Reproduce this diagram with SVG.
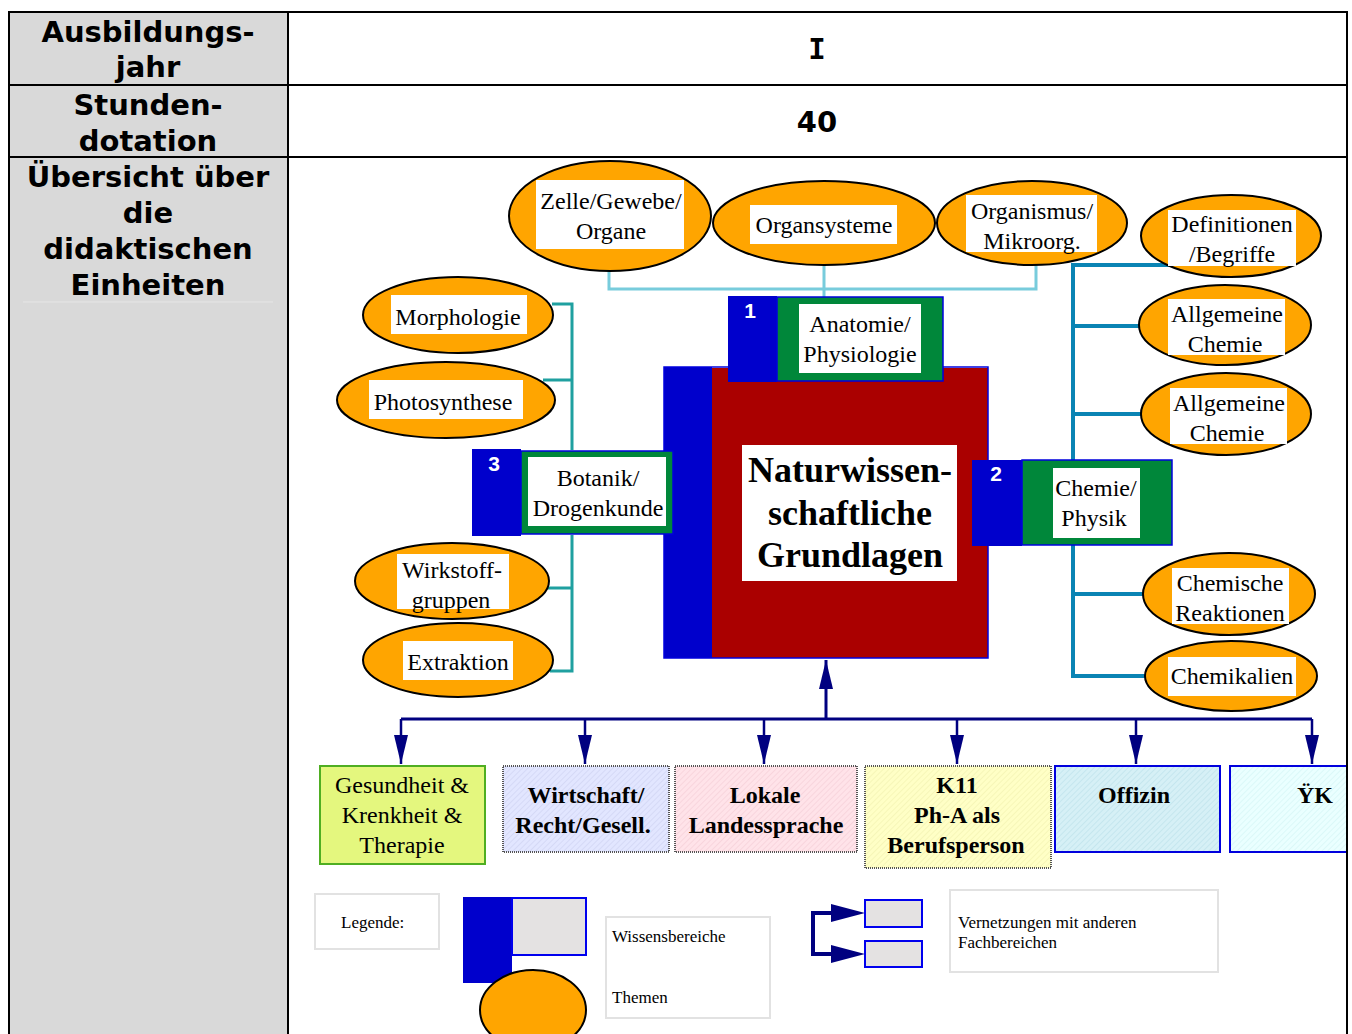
<svg xmlns="http://www.w3.org/2000/svg" width="1352" height="1034" viewBox="0 0 1352 1034">
<defs>
<style>
.hdr{font-family:"DejaVu Sans","Verdana",sans-serif;font-weight:bold;font-size:29px;fill:#000;text-anchor:middle}
.t{font-family:"Liberation Serif","Times New Roman",serif;font-size:24px;fill:#000;text-anchor:middle}
.tb{font-family:"Liberation Serif","Times New Roman",serif;font-size:24px;font-weight:bold;fill:#000;text-anchor:middle}
.main{font-family:"Liberation Serif","Times New Roman",serif;font-size:36px;font-weight:bold;fill:#000;text-anchor:middle}
.num{font-family:"Liberation Sans",Arial,sans-serif;font-size:21px;font-weight:bold;fill:#fff;text-anchor:middle}
.lg{font-family:"Liberation Serif","Times New Roman",serif;font-size:17px;fill:#000}
.ell{fill:#FFA500;stroke:#000;stroke-width:2}
.lbl{fill:#fff}
.blue{fill:#0000CC}
.green{fill:#00873A}
.grid{stroke:#000;stroke-width:2;fill:none}
.lgbox{fill:#fff;stroke:#E2E2E2;stroke-width:2}
.navy{stroke:#000080;fill:none}
</style>
<pattern id="hatchA" width="4" height="4" patternUnits="userSpaceOnUse" patternTransform="rotate(45)">
<rect width="4" height="4" fill="#E2E6FF"/><line x1="0" y1="0" x2="0" y2="4" stroke="#C8CCEE" stroke-width="1"/>
</pattern>
<pattern id="hatchB" width="4" height="4" patternUnits="userSpaceOnUse" patternTransform="rotate(45)">
<rect width="4" height="4" fill="#FFE3E9"/><line x1="0" y1="0" x2="0" y2="4" stroke="#F2C8D2" stroke-width="1"/>
</pattern>
<pattern id="hatchC" width="4" height="4" patternUnits="userSpaceOnUse" patternTransform="rotate(45)">
<rect width="4" height="4" fill="#FFFFC6"/><line x1="0" y1="0" x2="0" y2="4" stroke="#EEEEAA" stroke-width="1"/>
</pattern>
<pattern id="hatchD" width="4" height="4" patternUnits="userSpaceOnUse" patternTransform="rotate(45)">
<rect width="4" height="4" fill="#D6F0F6"/><line x1="0" y1="0" x2="0" y2="4" stroke="#B4DCE6" stroke-width="1"/>
</pattern>
<pattern id="hatchE" width="4" height="4" patternUnits="userSpaceOnUse" patternTransform="rotate(45)">
<rect width="4" height="4" fill="#EAFFFF"/><line x1="0" y1="0" x2="0" y2="4" stroke="#CCF2F2" stroke-width="1"/>
</pattern>
<marker id="ah" markerUnits="userSpaceOnUse" markerWidth="30" markerHeight="16" refX="29" refY="7" orient="auto" viewBox="0 0 30 14">
<path d="M0,0 L29,7 L0,14 Z" fill="#000080"/>
</marker>
</defs>

<rect width="1352" height="1034" fill="#fff"/>

<g id="table">
<rect x="9" y="12" width="279" height="1030" fill="#D9D9D9"/>
<line x1="23" y1="302" x2="273" y2="302" stroke="#E6E6E6" stroke-width="1"/>
<path class="grid" d="M9,1040 V12 H1347 V1040 M288,12 V1040 M9,85 H1347 M9,157 H1347"/>
<text class="hdr" x="148" y="42">Ausbildungs-</text>
<text class="hdr" x="148" y="77">jahr</text>
<text class="hdr" x="148" y="115">Stunden-</text>
<text class="hdr" x="148" y="151">dotation</text>
<text class="hdr" x="148" y="187">Übersicht über</text>
<text class="hdr" x="148" y="223">die</text>
<text class="hdr" x="148" y="259">didaktischen</text>
<text class="hdr" x="148" y="295">Einheiten</text>
<text class="hdr" x="817" y="59" style="font-family:'DejaVu Sans Mono',monospace">I</text>
<text class="hdr" x="817" y="132">40</text>
</g>

<g id="connectors">
<path d="M609,271 V289 H1036 V265 M824,266 V297" stroke="#78CCDC" stroke-width="3" fill="none"/>
<path d="M552,304 H572 V450 M543,380 H572 M572,535 V671 H550 M548,588 H572" stroke="#1FA0A0" stroke-width="3" fill="none"/>
<path d="M1172,265 H1073 V461 M1073,326 H1141 M1073,414 H1143 M1073,545 V676 H1147 M1073,594 H1145" stroke="#0A84B4" stroke-width="4" fill="none"/>
<path class="navy" stroke-width="3" d="M401,719 H1312"/>
<path class="navy" stroke-width="3" d="M826,719 V660" marker-end="url(#ah)"/>
<path class="navy" stroke-width="2.5" d="M401,719 V764" marker-end="url(#ah)"/>
<path class="navy" stroke-width="2.5" d="M585,719 V764" marker-end="url(#ah)"/>
<path class="navy" stroke-width="2.5" d="M764,719 V764" marker-end="url(#ah)"/>
<path class="navy" stroke-width="2.5" d="M957,719 V764" marker-end="url(#ah)"/>
<path class="navy" stroke-width="2.5" d="M1136,719 V764" marker-end="url(#ah)"/>
<path class="navy" stroke-width="2.5" d="M1312,719 V764" marker-end="url(#ah)"/>
</g>

<g id="n-main">
<rect x="664" y="367" width="48" height="291" class="blue"/>
<rect x="712" y="368" width="276" height="290" fill="#AA0000"/>
<rect x="664" y="367" width="324" height="291" fill="none" stroke="#0000DD" stroke-width="1.5"/>
<rect x="742" y="445" width="215" height="136" class="lbl"/>
<text class="main" x="850" y="482">Naturwissen-</text>
<text class="main" x="850" y="525">schaftliche</text>
<text class="main" x="850" y="567">Grundlagen</text>
</g>

<g id="n-anatomie">
<rect x="728" y="296" width="49" height="86" class="blue"/>
<rect x="777" y="297" width="166" height="84" class="green" stroke="#0000DD" stroke-width="1.5"/>
<rect x="799" y="304" width="122" height="69" class="lbl"/>
<text class="num" x="750" y="318">1</text>
<text class="t" x="860" y="332">Anatomie/</text>
<text class="t" x="860" y="362">Physiologie</text>
</g>

<g id="n-botanik">
<rect x="472" y="449" width="49" height="87" class="blue"/>
<rect x="521" y="451" width="152" height="83" class="green" stroke="#0000DD" stroke-width="1.5"/>
<rect x="528" y="457" width="138" height="69" class="lbl"/>
<text class="num" x="494" y="471">3</text>
<text class="t" x="598" y="486">Botanik/</text>
<text class="t" x="598" y="516">Drogenkunde</text>
</g>

<g id="n-chemie">
<rect x="972" y="460" width="50" height="86" class="blue"/>
<rect x="1022" y="460" width="150" height="85" class="green" stroke="#0000DD" stroke-width="1.5"/>
<rect x="1053" y="468" width="87" height="70" class="lbl"/>
<text class="num" x="996" y="481">2</text>
<text class="t" x="1096" y="496">Chemie/</text>
<text class="t" x="1094" y="526">Physik</text>
</g>

<g id="n-zelle">
<ellipse class="ell" cx="610" cy="216" rx="101" ry="55"/>
<rect x="536" y="180" width="148" height="69" class="lbl"/>
<text class="t" x="611" y="209">Zelle/Gewebe/</text>
<text class="t" x="611" y="239">Organe</text>
</g>
<g id="n-organsysteme">
<ellipse class="ell" cx="824" cy="223" rx="111" ry="42"/>
<rect x="750" y="205" width="147" height="39" class="lbl"/>
<text class="t" x="824" y="233">Organsysteme</text>
</g>
<g id="n-organismus">
<ellipse class="ell" cx="1032" cy="223" rx="95" ry="42"/>
<rect x="966" y="195" width="131" height="57" class="lbl"/>
<text class="t" x="1032" y="219">Organismus/</text>
<text class="t" x="1032" y="249">Mikroorg.</text>
</g>
<g id="n-definitionen">
<ellipse class="ell" cx="1231" cy="236" rx="90" ry="41"/>
<rect x="1168" y="210" width="128" height="56" class="lbl"/>
<text class="t" x="1232" y="232">Definitionen</text>
<text class="t" x="1232" y="262">/Begriffe</text>
</g>
<g id="n-allg1">
<ellipse class="ell" cx="1225" cy="325" rx="86" ry="40"/>
<rect x="1168" y="299" width="117" height="56" class="lbl"/>
<text class="t" x="1227" y="322">Allgemeine</text>
<text class="t" x="1225" y="352">Chemie</text>
</g>
<g id="n-allg2">
<ellipse class="ell" cx="1226" cy="414" rx="85" ry="41"/>
<rect x="1170" y="388" width="117" height="56" class="lbl"/>
<text class="t" x="1229" y="411">Allgemeine</text>
<text class="t" x="1227" y="441">Chemie</text>
</g>
<g id="n-chemische">
<ellipse class="ell" cx="1229" cy="594" rx="86" ry="41"/>
<rect x="1172" y="568" width="117" height="56" class="lbl"/>
<text class="t" x="1230" y="591">Chemische</text>
<text class="t" x="1230" y="621">Reaktionen</text>
</g>
<g id="n-chemikalien">
<ellipse class="ell" cx="1231" cy="676" rx="86" ry="35"/>
<rect x="1168" y="657" width="128" height="39" class="lbl"/>
<text class="t" x="1232" y="684">Chemikalien</text>
</g>
<g id="n-morphologie">
<ellipse class="ell" cx="458" cy="315" rx="95" ry="38"/>
<rect x="391" y="295" width="136" height="39" class="lbl"/>
<text class="t" x="458" y="325">Morphologie</text>
</g>
<g id="n-photosynthese">
<ellipse class="ell" cx="446" cy="400" rx="109" ry="38"/>
<rect x="369" y="380" width="154" height="39" class="lbl"/>
<text class="t" x="443" y="410">Photosynthese</text>
</g>
<g id="n-wirkstoff">
<ellipse class="ell" cx="452" cy="581" rx="97" ry="38"/>
<rect x="397" y="554" width="112" height="55" class="lbl"/>
<text class="t" x="452" y="578">Wirkstoff-</text>
<text class="t" x="451" y="608">gruppen</text>
</g>
<g id="n-extraktion">
<ellipse class="ell" cx="458" cy="660" rx="95" ry="37"/>
<rect x="403" y="641" width="110" height="39" class="lbl"/>
<text class="t" x="458" y="670">Extraktion</text>
</g>

<g id="n-gesundheit">
<rect x="320" y="766" width="165" height="98" fill="#E4F77E" stroke="#4FAE22" stroke-width="2"/>
<text class="t" x="402" y="793">Gesundheit &amp;</text>
<text class="t" x="402" y="823">Krenkheit &amp;</text>
<text class="t" x="402" y="853">Therapie</text>
</g>
<g id="n-wirtschaft">
<rect x="503" y="766" width="166" height="86" fill="url(#hatchA)" stroke="#555" stroke-width="2" stroke-dasharray="1,1"/>
<text class="tb" x="586" y="803">Wirtschaft/</text>
<text class="tb" x="583" y="833">Recht/Gesell.</text>
</g>
<g id="n-lokale">
<rect x="675" y="766" width="182" height="86" fill="url(#hatchB)" stroke="#555" stroke-width="2" stroke-dasharray="1,1"/>
<text class="tb" x="765" y="803">Lokale</text>
<text class="tb" x="766" y="833">Landessprache</text>
</g>
<g id="n-k11">
<rect x="865" y="766" width="186" height="102" fill="url(#hatchC)" stroke="#555" stroke-width="2" stroke-dasharray="1,1"/>
<text class="tb" x="957" y="793">K11</text>
<text class="tb" x="957" y="823">Ph-A als</text>
<text class="tb" x="956" y="853">Berufsperson</text>
</g>
<g id="n-offizin">
<rect x="1055" y="766" width="165" height="86" fill="url(#hatchD)" stroke="#0000DD" stroke-width="2"/>
<text class="tb" x="1134" y="803">Offizin</text>
</g>
<g id="n-yk">
<rect x="1230" y="766" width="117" height="86" fill="url(#hatchE)" stroke="#0000DD" stroke-width="2"/>
<text class="tb" x="1315" y="803">ŸK</text>
</g>

<g id="legend">
<rect class="lgbox" x="315" y="894" width="124" height="55"/>
<text class="lg" x="341" y="928">Legende:</text>
<rect x="463" y="897" width="49" height="86" class="blue"/>
<rect x="512" y="898" width="74" height="57" fill="#E4E2E2" stroke="#0000EE" stroke-width="2"/>
<ellipse class="ell" cx="533" cy="1010" rx="53" ry="40"/>
<rect class="lgbox" x="606" y="917" width="164" height="101"/>
<text class="lg" x="612" y="942">Wissensbereiche</text>
<text class="lg" x="612" y="1003">Themen</text>
<path d="M840,913 H813 V954 H840" stroke="#000080" stroke-width="4" fill="none"/>
<path d="M831,904 L865,913 L831,922 Z M831,945 L865,954 L831,963 Z" fill="#000080"/>
<rect x="865" y="900" width="57" height="27" fill="#E4E2E2" stroke="#0000EE" stroke-width="2"/>
<rect x="865" y="941" width="57" height="26" fill="#E4E2E2" stroke="#0000EE" stroke-width="2"/>
<rect class="lgbox" x="950" y="890" width="268" height="82"/>
<text class="lg" x="958" y="928">Vernetzungen mit anderen</text>
<text class="lg" x="958" y="948">Fachbereichen</text>
</g>

<path class="grid" d="M1347,12 V1040"/>
</svg>
